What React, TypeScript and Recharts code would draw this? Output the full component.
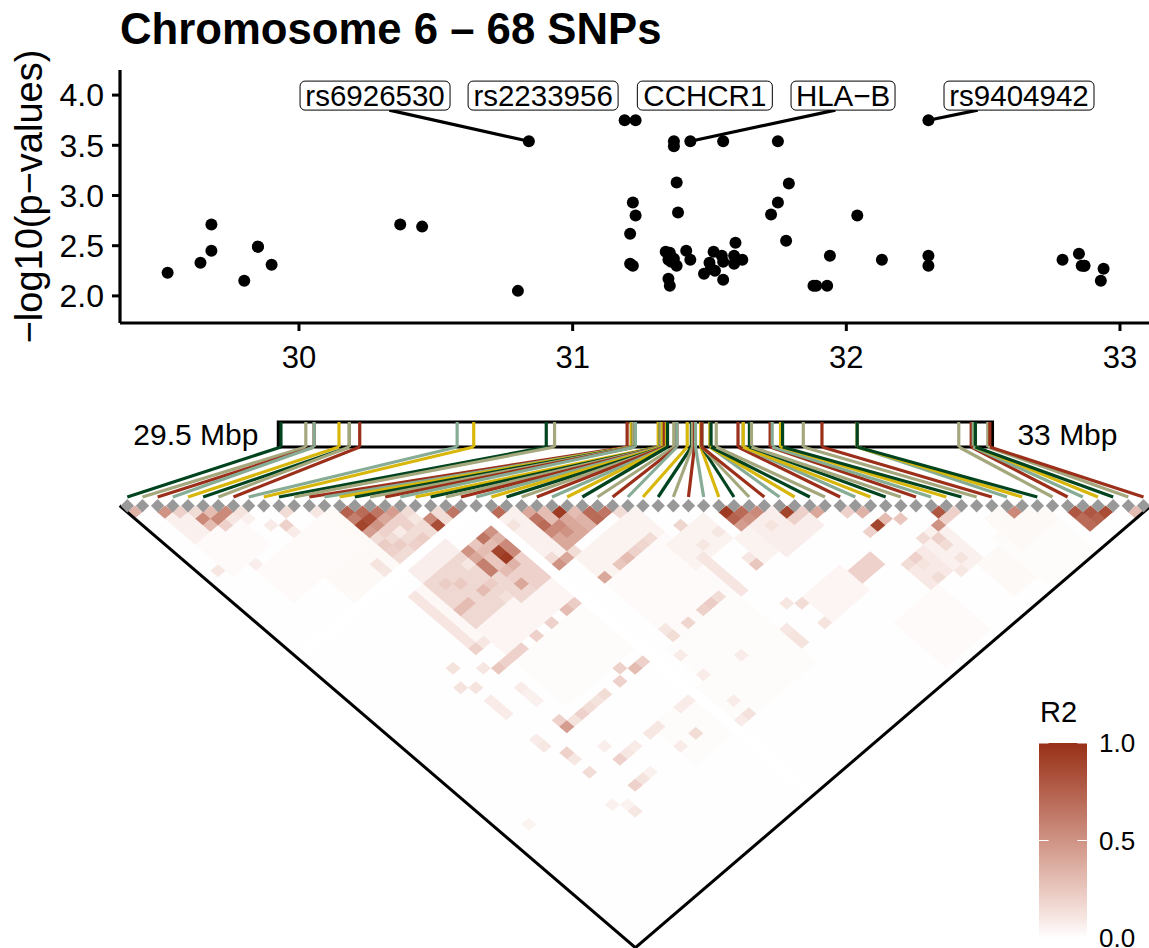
import React from 'react';
import {
  Area,
  ComposedChart,
  ReferenceArea,
  ReferenceDot,
  ReferenceLine,
  Scatter,
  ScatterChart,
  XAxis,
  YAxis,
} from 'recharts';

const FONT = '"Liberation Sans", Arial, sans-serif';

// SNP positions (Mbp) and -log10(p), ordered by position
const snpMbp = [
  29.52, 29.64, 29.68, 29.68, 29.8, 29.85, 29.85, 29.9, 30.37, 30.45, 30.8, 30.84, 31.19, 31.21, 31.21, 31.22, 31.22,
  31.23, 31.23, 31.34, 31.35, 31.35, 31.355, 31.355, 31.36, 31.37, 31.37, 31.37, 31.38, 31.38, 31.385, 31.415, 31.43,
  31.43, 31.48, 31.5, 31.505, 31.515, 31.52, 31.545, 31.55, 31.55, 31.55, 31.59, 31.59, 31.595, 31.62, 31.725, 31.75,
  31.75, 31.78, 31.79, 31.88, 31.89, 31.93, 31.94, 32.04, 32.13, 32.3, 32.3, 32.3, 32.79, 32.85, 32.86, 32.87, 32.87,
  32.93, 32.94,
];
const snpLogP = [
  2.23, 2.33, 2.45, 2.71, 2.15, 2.49, 2.49, 2.31, 2.71, 2.69, 2.05, 3.54, 3.75, 2.32, 2.62, 2.3, 2.93, 2.8, 3.75, 2.44,
  2.36, 2.17, 2.1, 2.43, 2.34, 2.37, 3.54, 3.49, 2.3, 3.13, 2.83, 2.45, 2.36, 3.54, 2.22, 2.33, 2.27, 2.44, 2.25, 2.4,
  2.34, 2.16, 3.54, 2.4, 2.32, 2.53, 2.36, 2.81, 2.93, 3.54, 2.55, 3.12, 2.1, 2.1, 2.1, 2.4, 2.8, 2.36, 2.3, 2.4, 3.75,
  2.36, 2.42, 2.3, 2.3, 2.3, 2.15, 2.27,
];
const yTicks = [2, 2.5, 3, 3.5, 4];
const xTicks = [30, 31, 32, 33];

// repelled gene / rs labels
const calloutNames = ['rs6926530', 'rs2233956', 'CCHCR1', 'HLA\u2212B', 'rs9404942'];
const calloutMbp = [30.278, 30.892, 31.483, 31.988, 32.631];
const calloutLogP = 3.995;
const calloutWidths = [150, 150, 135, 104, 150];
// [label x where the leader leaves the box, SNP x, SNP y]
const leaders = [
  [30.33, 30.84, 3.54],
  [31.96, 31.43, 3.54],
  [32.48, 32.3, 3.75],
];

const rugColours = ['#00441F', '#A5A77D', '#9B2F1A', '#86AC95', '#D8B70A'];

// r2; [iFrom, iTo, jFrom, jTo, r2] for flat areas
const ldBackground = 0.003;
const ldAreas = [
  [2, 7, 4, 9, 0.06],
  [2, 6, 8, 12, 0.02],
  [8, 13, 14, 22, 0.025],
  [4, 12, 14, 18, 0.02],
  [14, 22, 38, 44, 0.012],
  [25, 33, 47, 57, 0.012],
  [18, 30, 52, 57, 0.012],
  [26, 33, 38, 46, 0.02],
  [14, 18, 19, 22, 0.15],
  [14, 18, 24, 25, 0.07],
  [14, 18, 26, 32, 0.17],
  [13, 13, 26, 34, 0.03],
  [19, 20, 30, 33, 0.17],
  [21, 22, 30, 33, 0.2],
  [19, 22, 34, 36, 0.04],
  [14, 18, 33, 36, 0.04],
  [12, 12, 26, 34, 0.11],
  [24, 25, 26, 33, 0.06],
  [26, 33, 34, 37, 0.05],
  [33, 37, 39, 42, 0.05],
  [38, 42, 52, 55, 0.04],
  [38, 41, 43, 46, 0.05],
  [40, 44, 43, 47, 0.07],
  [34, 34, 42, 47, 0.11],
  [43, 45, 53, 54, 0.2],
  [47, 50, 56, 59, 0.09],
  [50, 52, 55, 60, 0.06],
  [42, 47, 60, 66, 0.018],
  [52, 54, 61, 65, 0.025],
  [55, 60, 60, 67, 0.012],
  [56, 60, 58, 62, 0.025],
];
// SNPs in no LD with anything
const ldBlankRanks = [23];
// single cells [i, j, r2]
const ldCells = [
  [0, 1, 0.35], [2, 3, 0.5], [3, 4, 0.2], [4, 5, 0.15], [5, 6, 0.3], [4, 6, 0.55], [5, 7, 0.55], [6, 7, 0.55],
  [4, 7, 0.3], [5, 8, 0.2], [6, 8, 0.1], [7, 8, 0.12], [10, 11, 0.15], [9, 12, 0.2], [9, 13, 0.08], [8, 11, 0.08],
  [12, 13, 0.1], [1, 11, 0.1], [4, 13, 0.07],
  [14, 15, 0.75], [15, 16, 0.7], [16, 17, 0.65], [17, 18, 0.45], [14, 16, 0.6], [15, 17, 0.85], [16, 18, 0.4],
  [17, 19, 0.2], [14, 17, 0.9], [15, 18, 0.5], [16, 19, 0.2], [14, 18, 0.45], [16, 20, 0.08], [15, 21, 0.22],
  [15, 19, 0.2], [17, 20, 0.2], [18, 20, 0.1], [14, 20, 0.22], [14, 21, 0.2], [17, 22, 0.22], [16, 22, 0.2],
  [12, 21, 0.12], [12, 22, 0.1],
  [19, 21, 0.55], [19, 22, 0.85], [20, 22, 0.15], [20, 21, 0.15], [21, 22, 0.65], [24, 25, 0.7],
  [21, 28, 0.9], [21, 29, 0.95], [22, 29, 0.55], [22, 28, 0.55], [22, 27, 0.35], [21, 26, 0.65], [22, 26, 0.5],
  [21, 27, 0.3], [19, 26, 0.5], [19, 27, 0.4], [19, 28, 0.6], [19, 29, 0.6], [20, 27, 0.3], [20, 26, 0.25],
  [20, 28, 0.25], [20, 29, 0.25], [21, 30, 0.35], [20, 30, 0.3], [20, 31, 0.2], [20, 32, 0.4], [17, 30, 0.3],
  [15, 30, 0.3], [14, 30, 0.3], [16, 28, 0.24], [15, 27, 0.22], [18, 27, 0.1], [18, 30, 0.22], [18, 32, 0.13],
  [28, 29, 0.95], [26, 27, 0.4], [26, 28, 0.65], [26, 29, 0.7], [27, 28, 0.3], [27, 29, 0.3], [26, 30, 0.55],
  [27, 30, 0.55], [28, 30, 0.4], [29, 30, 0.3], [30, 31, 0.7], [31, 32, 0.65], [30, 32, 0.7], [29, 31, 0.35],
  [28, 31, 0.4], [29, 32, 0.35], [27, 31, 0.5], [28, 32, 0.4], [26, 31, 0.4], [27, 32, 0.4], [26, 32, 0.4],
  [26, 33, 0.15], [25, 33, 0.4], [24, 33, 0.5], [24, 32, 0.15], [32, 33, 0.15], [24, 27, 0.12],
  [26, 37, 0.4], [28, 37, 0.25], [29, 37, 0.3], [30, 37, 0.2], [31, 37, 0.18], [32, 37, 0.15], [21, 37, 0.3],
  [22, 37, 0.22], [19, 37, 0.2], [17, 37, 0.2], [15, 37, 0.2], [14, 37, 0.2], [13, 37, 0.2], [12, 37, 0.25],
  [39, 40, 0.95], [39, 41, 0.75], [40, 41, 0.7], [39, 42, 0.45], [40, 42, 0.5], [41, 42, 0.55], [43, 44, 0.9],
  [43, 45, 0.2], [44, 45, 0.2], [45, 46, 0.4], [47, 48, 0.2], [48, 49, 0.35], [49, 51, 0.3], [50, 52, 0.25],
  [48, 51, 0.9], [47, 51, 0.2], [53, 54, 0.8], [52, 55, 0.5], [53, 55, 0.2], [54, 55, 0.2], [51, 56, 0.2],
  [50, 55, 0.15], [51, 57, 0.15], [51, 59, 0.12], [58, 59, 0.55], [62, 63, 0.8], [63, 64, 0.8], [64, 65, 0.85],
  [62, 64, 0.7], [63, 65, 0.75], [62, 65, 0.7], [66, 67, 0.3], [35, 38, 0.18], [37, 46, 0.25], [37, 45, 0.1],
  [48, 56, 0.2], [47, 56, 0.15], [48, 57, 0.12], [48, 59, 0.15], [50, 60, 0.1], [37, 52, 0.15], [36, 51, 0.1],
  [37, 55, 0.12], [34, 55, 0.12], [34, 53, 0.1], [34, 54, 0.12], [41, 44, 0.12], [35, 41, 0.1], [37, 41, 0.1],
  [26, 46, 0.15], [26, 45, 0.1], [28, 46, 0.18], [30, 46, 0.2], [31, 46, 0.22], [32, 46, 0.15], [12, 46, 0.45],
  [12, 45, 0.2], [14, 46, 0.2], [13, 46, 0.12], [15, 46, 0.15], [16, 46, 0.12], [17, 46, 0.15], [20, 45, 0.2],
  [21, 46, 0.3], [22, 46, 0.2], [19, 46, 0.2], [12, 34, 0.2], [13, 34, 0.1], [9, 34, 0.12], [11, 36, 0.1],
  [8, 36, 0.12], [9, 37, 0.12], [9, 39, 0.08], [9, 40, 0.08], [9, 41, 0.08], [12, 40, 0.08], [12, 41, 0.06],
  [12, 42, 0.06], [9, 45, 0.08], [9, 46, 0.1], [10, 48, 0.2], [10, 49, 0.1], [10, 51, 0.15], [13, 52, 0.2],
  [14, 52, 0.1], [15, 52, 0.08], [12, 55, 0.2], [13, 55, 0.12], [14, 55, 0.06], [13, 50, 0.07], [18, 55, 0.08],
  [20, 55, 0.15], [18, 52, 0.1], [17, 52, 0.1], [21, 52, 0.08], [22, 52, 0.08], [10, 57, 0.1], [9, 55, 0.06],
  [10, 56, 0.05], [2, 51, 0.05], [25, 57, 0.13], [24, 57, 0.08], [25, 48, 0.08], [29, 52, 0.08], [25, 51, 0.08],
  [25, 55, 0.08],
];

const cellKey = (i: number, j: number) => `${i}-${j}`;
const ldLookup = new Map<string, number>();
ldAreas.forEach(([iFrom, iTo, jFrom, jTo, r2]) => {
  for (let i = iFrom; i <= iTo; i++) for (let j = jFrom; j <= jTo; j++) ldLookup.set(cellKey(i, j), r2);
});
ldCells.forEach(([i, j, r2]) => ldLookup.set(cellKey(i, j), r2));

const ranks = snpMbp.map((_, i) => i);
const ldData = ranks.flatMap((i) =>
  ranks
    .filter((j) => j > i)
    .map((j) => ({
      x: (i + j) / 2,
      y: j - i,
      r2: ldBlankRanks.includes(i) || ldBlankRanks.includes(j) ? 0 : ldLookup.get(cellKey(i, j)) ?? ldBackground,
    }))
);
const snpData = snpMbp.map((x, i) => ({ x, y: snpLogP[i] }));
const diagonalData = ranks.map((x) => ({ x, y: 0 }));

const r2Colour = (r2: number) => {
  const mix = (lo: number, hi: number, g: number) => Math.round(lo + (hi - lo) * Math.pow(r2, g));
  return `rgb(${mix(255, 152, 1.1)},${mix(255, 48, 0.94)},${mix(255, 23, 0.92)})`;
};

// rug box: where 29.52 and 32.94 Mbp fall, in rank units of the diamond row
const rugRankFrom = 10.13;
const rugRankTo = 56.87;
const rugRank = (mbp: number) => rugRankFrom + ((mbp - 29.52) * (rugRankTo - rugRankFrom)) / (32.94 - 29.52);
const hiddenData = [{ x: 0, y: 0 }];

const Callout = (props: any) => (
  <g>
    <rect
      x={props.cx - props.boxWidth / 2}
      y={props.cy - 14.5}
      width={props.boxWidth}
      height={29}
      rx={5}
      fill="#fff"
      stroke="#000"
      strokeWidth={1}
    />
    <text x={props.cx} y={props.cy + 10.5} textAnchor="middle" fontSize={29.5} fontFamily={FONT} fill="#000">
      {props.name}
    </text>
  </g>
);

const ManhattanPanel = () => (
  <ScatterChart width={1149} height={400} margin={{ top: 70, right: 0, bottom: 0, left: 0 }}>
    <XAxis
      type="number"
      dataKey="x"
      domain={[29.346, 33.106]}
      ticks={xTicks}
      interval={0}
      height={77}
      tick={{ fill: '#000', fontSize: 31, fontFamily: FONT }}
      axisLine={{ stroke: '#000', strokeWidth: 3.2 }}
      tickLine={{ stroke: '#000', strokeWidth: 3 }}
      tickSize={8}
      tickMargin={15}
    />
    <YAxis
      type="number"
      dataKey="y"
      domain={[1.73, 4.25]}
      ticks={yTicks}
      interval={0}
      width={120}
      tickFormatter={(v: number) => v.toFixed(1)}
      tick={{ fill: '#000', fontSize: 32, fontFamily: FONT }}
      axisLine={{ stroke: '#000', strokeWidth: 3.2 }}
      tickLine={{ stroke: '#000', strokeWidth: 3 }}
      tickSize={8}
      tickMargin={8}
      label={{
        value: '\u2212log10(p\u2212values)',
        angle: -90,
        position: 'insideLeft',
        dx: 24,
        dy: 0,
        style: { textAnchor: 'middle', fontSize: 38, fontFamily: FONT, fill: '#000' },
      }}
    />
    {leaders.map(([fromMbp, mbp, logP]) => (
      <ReferenceLine
        key={fromMbp}
        segment={[
          { x: fromMbp, y: 3.85 },
          { x: mbp, y: logP },
        ]}
        stroke="#000"
        strokeWidth={3.2}
      />
    ))}
    <Scatter
      data={snpData}
      isAnimationActive={false}
      shape={(p: any) => <circle cx={p.cx} cy={p.cy} r={6} fill="#000" />}
    />
    {calloutNames.map((name, i) => (
      <ReferenceDot
        key={name}
        x={calloutMbp[i]}
        y={calloutLogP}
        shape={(p: any) => <Callout {...p} name={name} boxWidth={calloutWidths[i]} />}
      />
    ))}
  </ScatterChart>
);

const RugPanel = () => (
  <ScatterChart width={1149} height={500} margin={{ top: 422, right: 5.5, bottom: 3, left: 127.3 }}>
    <XAxis type="number" dataKey="x" domain={[0, 67]} hide />
    <YAxis type="number" dataKey="y" domain={[0, 3]} hide width={0} />
    <Scatter data={hiddenData} isAnimationActive={false} shape={() => <g />} />
    {snpMbp.map((mbp, i) => (
      <ReferenceLine
        key={`rug-${i}`}
        segment={[
          { x: rugRank(mbp), y: 3 },
          { x: rugRank(mbp), y: 2 },
        ]}
        stroke={rugColours[i % 5]}
        strokeWidth={3.2}
        ifOverflow="visible"
      />
    ))}
    {snpMbp.map((mbp, i) => (
      <ReferenceLine
        key={`link-${i}`}
        segment={[
          { x: rugRank(mbp), y: 2 },
          { x: i, y: 0 },
        ]}
        stroke={rugColours[i % 5]}
        strokeWidth={3.2}
        ifOverflow="visible"
      />
    ))}
    <ReferenceArea
      x1={rugRank(29.52) - 0.17}
      x2={rugRank(32.94) + 0.17}
      y1={2}
      y2={3}
      fill="none"
      fillOpacity={0}
      stroke="#000"
      strokeWidth={3.2}
      ifOverflow="visible"
    />
    <ReferenceDot
      x={rugRank(29.52) - 0.17}
      y={2.5}
      r={0}
      ifOverflow="visible"
      label={{ value: '29.5 Mbp', position: 'left', offset: 20, fontSize: 30, fontFamily: FONT, fill: '#000' }}
    />
    <ReferenceDot
      x={rugRank(32.94) + 0.17}
      y={2.5}
      r={0}
      ifOverflow="visible"
      label={{ value: '33 Mbp', position: 'right', offset: 25, fontSize: 30, fontFamily: FONT, fill: '#000' }}
    />
  </ScatterChart>
);

const ldMargin = { top: 505.7, right: 5.5, bottom: 6.8, left: 127.3 };

const LDPanel = () => (
  <ScatterChart width={1149} height={948} margin={ldMargin}>
    <XAxis type="number" dataKey="x" domain={[0, 67]} hide />
    <YAxis type="number" dataKey="y" domain={[0, 67]} reversed hide width={0} />
    <Scatter
      data={ldData}
      isAnimationActive={false}
      shape={(p: any) => {
        const { cx, cy } = p;
        const pts = `${cx - 7.9},${cy} ${cx},${cy - 6.8} ${cx + 7.9},${cy} ${cx},${cy + 6.8}`;
        return <polygon points={pts} fill={r2Colour(p.payload.r2)} />;
      }}
    />
  </ScatterChart>
);

const LDFrame = () => (
  <ScatterChart width={1149} height={948} margin={ldMargin}>
    <XAxis type="number" dataKey="x" domain={[0, 67]} hide />
    <YAxis type="number" dataKey="y" domain={[0, 67]} reversed hide width={0} />
    <ReferenceLine
      segment={[
        { x: -0.5, y: 0 },
        { x: 33.5, y: 68 },
      ]}
      stroke="#000"
      strokeWidth={3}
      ifOverflow="visible"
    />
    <ReferenceLine
      segment={[
        { x: 67.5, y: 0 },
        { x: 33.5, y: 68 },
      ]}
      stroke="#000"
      strokeWidth={3}
      ifOverflow="visible"
    />
    <Scatter
      data={diagonalData}
      isAnimationActive={false}
      shape={(p: any) => {
        const { cx, cy } = p;
        const pts = `${cx - 6.7},${cy} ${cx},${cy - 6.7} ${cx + 6.7},${cy} ${cx},${cy + 6.7}`;
        return <polygon points={pts} fill="#999999" />;
      }}
    />
  </ScatterChart>
);

const colourBarData = [
  { x: 0, r2: 1 },
  { x: 1, r2: 1 },
];
const colourBarTicks = [0, 0.5, 1];
const colourBarStops = [0, 0.1, 0.25, 0.5, 0.75, 1];

const ColourBar = () => (
  <ComposedChart
    width={1149}
    height={948}
    data={colourBarData}
    margin={{ top: 743, right: 0, bottom: 10, left: 1039 }}
  >
    <defs>
      <linearGradient id="r2Fill" x1="0" y1="1" x2="0" y2="0">
        {colourBarStops.map((s) => (
          <stop key={s} offset={`${s * 100}%`} stopColor={r2Colour(s)} />
        ))}
      </linearGradient>
    </defs>
    <XAxis type="number" dataKey="x" domain={[0, 1]} hide />
    <YAxis
      type="number"
      orientation="right"
      domain={[0, 1]}
      ticks={colourBarTicks}
      width={62}
      interval={0}
      tickFormatter={(v: number) => v.toFixed(1)}
      tick={{ fill: '#000', fontSize: 26, fontFamily: FONT }}
      axisLine={false}
      tickLine={false}
      tickMargin={6}
    />
    <Area dataKey="r2" type="linear" fill="url(#r2Fill)" fillOpacity={1} stroke="none" isAnimationActive={false} />
    {colourBarTicks.slice(1).flatMap((v) => [
      <ReferenceLine key={`l${v}`} segment={[{ x: 0, y: v }, { x: 0.2, y: v }]} stroke="#fff" strokeWidth={1} />,
      <ReferenceLine key={`r${v}`} segment={[{ x: 0.8, y: v }, { x: 1, y: v }]} stroke="#fff" strokeWidth={1} />,
    ])}
    <ReferenceDot
      x={0}
      y={1}
      r={0}
      ifOverflow="visible"
      label={{ value: 'R2', position: 'insideBottomLeft', dx: -4, dy: -16, fontSize: 29, fontFamily: FONT, fill: '#000' }}
    />
  </ComposedChart>
);

const layer: React.CSSProperties = { position: 'absolute', left: 0, top: 0 };

export default function App() {
  return (
    <div
      style={{
        position: 'absolute',
        left: 0,
        top: 0,
        width: 1149,
        height: 948,
        overflow: 'hidden',
        background: '#fff',
        fontFamily: FONT,
      }}
    >
      <div style={{ position: 'absolute', left: 120, top: 3, fontSize: 43.7, lineHeight: '52px', fontWeight: 700 }}>
        Chromosome 6 – 68 SNPs
      </div>
      <div style={layer}>
        <ManhattanPanel />
      </div>
      <div style={layer}>
        <RugPanel />
      </div>
      <div style={layer}>
        <LDPanel />
      </div>
      <div style={layer}>
        <LDFrame />
      </div>
      <div style={layer}>
        <ColourBar />
      </div>
    </div>
  );
}
